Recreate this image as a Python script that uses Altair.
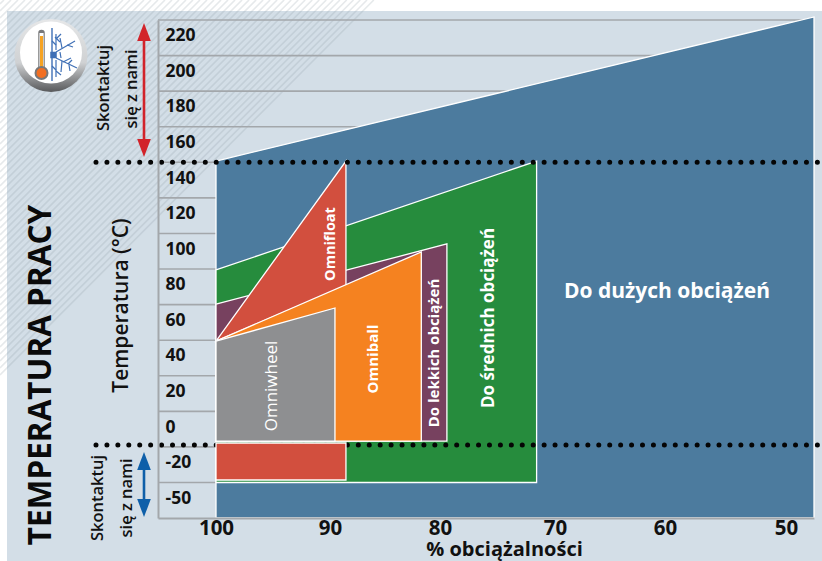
import altair as alt
import pandas as pd

FONT = "Open Sans"
PANEL = "#d3dee7"
LINE = "#a3a7ab"
WHITE = "#ffffff"
INK = "#111111"

LEFT, TOP, PLOT_W, PLOT_H = 158, 20, 656, 498

# Load axis: printed tick positions are not evenly spaced
X_DOMAIN = [105.1, 100, 90, 80, 70, 60, 50, 47.7]
X_RANGE = [0, 58, 172, 282, 397, 507, 628, 656]
# Temperature axis: the last row below -30 is compressed
Y_DOMAIN = [-70, -30, 230]
Y_RANGE = [498, 462.5, 0]

x_ticks = [100, 90, 80, 70, 60, 50]
y_ticks = [220, 200, 180, 160, 140, 120, 100, 80, 60, 40, 20, 0, -20, -50]
row_edges = [230, 210, 190, 170, 150, 130, 110, 90, 70, 50, 30, 10, -10, -30]

x_scale = alt.Scale(domain=X_DOMAIN, range=X_RANGE, nice=False, zero=False)
y_scale = alt.Scale(domain=Y_DOMAIN, range=Y_RANGE, nice=False, zero=False)

x_axis = alt.Axis(
    values=x_ticks, title="% obciążalności", zindex=1, grid=False, ticks=False,
    domainColor=LINE, domainWidth=2, labelColor=INK, labelFont=FONT,
    labelFontSize=20.5, labelFontWeight="bold", labelPadding=0, labelOverlap=False,
    labelFlush=False, titleFont=FONT, titleFontSize=20, titleFontWeight="bold",
    titleColor=INK, titleX=346, titleY=31.5, titleBaseline="middle",
)
y_axis = alt.Axis(
    values=y_ticks, title="Temperatura (°C)", zindex=1, grid=False, ticks=False,
    domainColor=LINE, domainWidth=2, labelColor=INK, labelFont=FONT,
    labelFontSize=17.5, labelFontWeight="bold", labelAlign="left",
    labelBaseline="middle", labelPadding=-7, labelOffset=-2, labelOverlap=False,
    labelFlush=False, labelExpr="toString(datum.value)", titleFont=FONT,
    titleFontSize=21, titleFontWeight=600, titleColor=INK, titleAngle=270,
    titleAlign="center", titleBaseline="middle", titleX=-37, titleY=285,
)


def px_to_x(px):
    p = px - LEFT
    slope = (X_DOMAIN[1] - X_DOMAIN[0]) / (X_RANGE[1] - X_RANGE[0])
    return X_DOMAIN[0] + (p - X_RANGE[0]) * slope


def py_to_y(py):
    return 230 - (py - TOP) / (462.5 / 260)


# Operating regions: load range, upper temperature edge, lower temperature edge
blue_x, blue_top, blue_bottom = [100, 47.7], [150.7, 231.7], [-70, -70]
green_x, green_top, green_bottom = [100, 71.6], [89.5, 150.7], [-30, -30]
purple_x, purple_top, purple_bottom = [100, 79.4], [70.3, 104.1], [-6.7, -6.7]
orange_x, orange_top, orange_bottom = [100, 81.7], [49.5, 99.6], [-6.7, -6.7]
grey_x, grey_top, grey_bottom = [100, 89.55], [49.5, 68.1], [-6.7, -6.7]
float_x, float_top, float_bottom = [100, 88.55], [49.5, 150.7], [49.5, 80.5]
cold_x, cold_top, cold_bottom = [100, 88.55], [-7.8, -7.8], [-28.6, -28.6]


def region(xs, top, bottom, colour):
    df = pd.DataFrame({"x": xs, "y": top, "y2": bottom})
    return alt.Chart(df).mark_area(
        color=colour, stroke=WHITE, strokeWidth=1.3, opacity=1, interpolate="linear"
    ).encode(
        x=alt.X("x:Q", scale=x_scale, axis=x_axis),
        y=alt.Y("y:Q", scale=y_scale, axis=y_axis),
        y2="y2:Q",
    )


def label(text, px, py, size, weight="bold", angle=270, colour=WHITE):
    return alt.Chart(pd.DataFrame({"t": [text]})).mark_text(
        font=FONT, fontSize=size, fontWeight=weight, angle=angle, color=colour,
        align="center", baseline="middle",
    ).encode(x=alt.value(px - LEFT), y=alt.value(py - TOP), text="t:N")


def point(px, py, diameter, **style):
    return alt.Chart(pd.DataFrame({"a": [0]})).mark_point(
        filled=True, opacity=1, size=diameter ** 2, **style
    ).encode(x=alt.value(px - LEFT), y=alt.value(py - TOP))


def vline(px, py1, py2, colour, width, cap="butt"):
    return alt.Chart(pd.DataFrame({"a": [0]})).mark_rule(
        color=colour, strokeWidth=width, strokeCap=cap
    ).encode(
        x=alt.value(px - LEFT),
        y=alt.value(py1 - TOP),
        y2=alt.value(py2 - TOP),
    )


def segments(rows, colour, width, opacity=1.0):
    df = pd.DataFrame(
        [
            {"x": px_to_x(a), "y": py_to_y(b), "x2": px_to_x(c), "y2": py_to_y(d)}
            for a, b, c, d in rows
        ]
    )
    return alt.Chart(df).mark_rule(
        color=colour, strokeWidth=width, opacity=opacity
    ).encode(
        x=alt.X("x:Q", scale=x_scale, axis=x_axis),
        y=alt.Y("y:Q", scale=y_scale, axis=y_axis),
        x2="x2:Q",
        y2="y2:Q",
    )


panel = alt.Chart(pd.DataFrame({"a": [0]})).mark_rect(color=PANEL).encode(
    x=alt.value(7 - LEFT),
    x2=alt.value(822 - LEFT),
    y=alt.value(11 - TOP),
    y2=alt.value(561 - TOP),
)

# Diagonal pinstripes across the upper-left corner
stripe_steps = list(range(4, 382, 7))
stripes = segments(
    [(c, 0, 0, c) for c in stripe_steps], "#8f9ba6", 1.6, opacity=0.22
)

# Rows of the temperature table
grid = alt.Chart(pd.DataFrame({"t": row_edges})).mark_rule(
    color=LINE, strokeWidth=1.6
).encode(
    x=alt.value(0),
    x2=alt.value(PLOT_W),
    y=alt.Y("t:Q", scale=y_scale, axis=y_axis),
)


def dotted(temp):
    return alt.Chart(pd.DataFrame({"t": [temp]})).mark_rule(
        color="#050505", strokeWidth=5, strokeCap="round", strokeDash=[0, 10.93]
    ).encode(
        x=alt.value(96 - LEFT),
        x2=alt.value(822 - LEFT),
        y=alt.Y("t:Q", scale=y_scale, axis=y_axis),
    )


ARROW_UP = "M -0.76 1 L 0 -1 L 0.76 1 Z"
ARROW_DOWN = "M -0.76 -1 L 0 1 L 0.76 -1 Z"
RED = "#d2232a"
BLUE_ARROW = "#0e5fa9"

# Badge with a thermometer and a snow crystal
ring_fill = alt.LinearGradient(
    gradient="linear", x1=0, y1=0, x2=0, y2=1,
    stops=[
        alt.GradientStop(offset=0, color="#e6e7e8"),
        alt.GradientStop(offset=0.6, color="#cfd1d3"),
        alt.GradientStop(offset=1, color="#58595b"),
    ],
)
crystal = [
    (56, 52, 75, 41), (62, 48, 60, 38), (67, 45, 73, 47), (60, 42, 55, 37),
    (56, 58, 77, 68), (63, 62, 71, 58), (68, 64, 72, 60), (62, 61, 61, 72),
    (69, 65, 70, 71), (56, 34, 56, 50), (56, 39, 61, 34), (52, 41, 56, 45),
    (56, 60, 56, 77), (56, 71, 61, 75), (52, 66, 56, 70), (60, 52, 61, 58),
]
badge = [
    point(51, 55.5, 73, fill=ring_fill),
    point(51, 52.5, 62, fill="#ffffff"),
    vline(41.5, 33, 72, "#77787a", 6.5, cap="round"),
    vline(41.5, 33, 70, "#ffffff", 4.2),
    vline(41.5, 36, 71, "#f6a323", 3),
    point(41.5, 73, 12, fill="#f26f22", stroke="#77787a", strokeWidth=2),
    vline(52, 28, 81, "#3f70b6", 1.4),
    segments(crystal, "#3f70b6", 1.2),
    point(53.5, 55, 6.5, fill="#3f70b6", shape="square"),
]

layers = [
    panel,
    stripes,
    grid,
    *badge,
    region(blue_x, blue_top, blue_bottom, "#4c7b9e"),
    region(green_x, green_top, green_bottom, "#268c3d"),
    region(purple_x, purple_top, purple_bottom, "#77415f"),
    region(float_x, float_top, float_bottom, "#d24f3e"),
    region(orange_x, orange_top, orange_bottom, "#f58220"),
    region(grey_x, grey_top, grey_bottom, "#8e8f91"),
    dotted(150),
    dotted(-8.9),
    region(cold_x, cold_top, cold_bottom, "#d24f3e"),
    label("Omniwheel", 272, 386, 17, weight=500),
    label("Omnifloat", 331, 244, 14.5),
    label("Omniball", 373, 359, 15),
    label("Do lekkich obciążeń", 434, 353, 15),
    label("Do średnich obciążeń", 489, 318, 17),
    label("Do dużych obciążeń", 667, 292, 21, angle=0),
    label("TEMPERATURA PRACY", 42, 375, 31.5, colour="#0a0a0a"),
    label("Skontaktuj", 104, 88, 16.5, weight=600, colour=INK),
    label("się z nami", 132, 89, 16.5, weight=600, colour=INK),
    label("Skontaktuj", 98, 498, 16.5, weight=600, colour=INK),
    label("się z nami", 127, 498, 16.5, weight=600, colour=INK),
    vline(144, 32, 148, RED, 2.6),
    point(144, 32, 18, fill=RED, shape=ARROW_UP),
    point(144, 148, 18, fill=RED, shape=ARROW_DOWN),
    vline(144, 458, 511, BLUE_ARROW, 2.6),
    point(144, 461, 18, fill=BLUE_ARROW, shape=ARROW_UP),
    point(144, 508, 18, fill=BLUE_ARROW, shape=ARROW_DOWN),
]

chart = alt.layer(*layers).properties(
    width=PLOT_W,
    height=PLOT_H,
    autosize=alt.AutoSizeParams(type="none"),
    padding={"left": LEFT, "top": TOP, "right": 8, "bottom": 43},
    background="#ffffff",
).configure_view(stroke=None)

chart.save("out.html", embed_options={"renderer": "svg", "actions": False})
